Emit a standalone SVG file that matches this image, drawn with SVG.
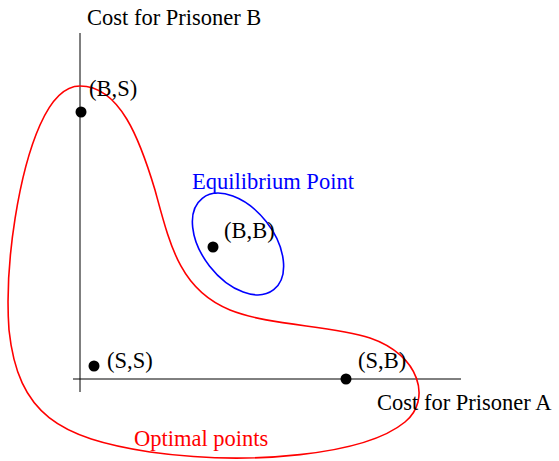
<svg xmlns="http://www.w3.org/2000/svg" width="559" height="461" viewBox="0 0 559 461">
<style>
text{font-family:"Liberation Serif","Times New Roman",serif;font-size:22.5px;fill:#000}
.axis{stroke:#000;stroke-width:1;fill:none}
.dot{fill:#000}
</style>
<rect width="559" height="461" fill="#fff"/>
<g id="connectors">
<line class="axis" x1="80" y1="33" x2="80" y2="392"/>
<line class="axis" x1="73" y1="379" x2="461" y2="379"/>
</g>
<g id="optimal">
<path d="M80,86 C120,86 140,140 155,190 C170,245 180,290 230,310 C270,326 330,325 370,338 C420,355 432,400 405,422 C365,455 250,466 150,452 C60,438 18,415 9,330 C4,260 20,170 40,125 C52,98 65,86 80,86 Z" fill="none" stroke="#f00" stroke-width="1.6"/>
<text x="134" y="446" style="fill:#f00">Optimal points</text>
</g>
<g id="equilibrium">
<ellipse cx="238" cy="244" rx="58" ry="36" transform="rotate(52 238 244)" fill="none" stroke="#00f" stroke-width="1.6"/>
<text x="192" y="189" style="fill:#00f">Equilibrium Point</text>
</g>
<g id="axisB"><text x="87" y="25">Cost for Prisoner B</text></g>
<g id="axisA"><text x="377" y="410">Cost for Prisoner A</text></g>
<g id="BS"><circle class="dot" cx="81" cy="112" r="5.5"/><text x="89" y="96">(B,S)</text></g>
<g id="BB"><circle class="dot" cx="213" cy="247" r="5.5"/><text x="224" y="238">(B,B)</text></g>
<g id="SS"><circle class="dot" cx="94" cy="366" r="5.5"/><text x="107" y="368">(S,S)</text></g>
<g id="SB"><circle class="dot" cx="346" cy="379" r="5.5"/><text x="358" y="368">(S,B)</text></g>
</svg>
